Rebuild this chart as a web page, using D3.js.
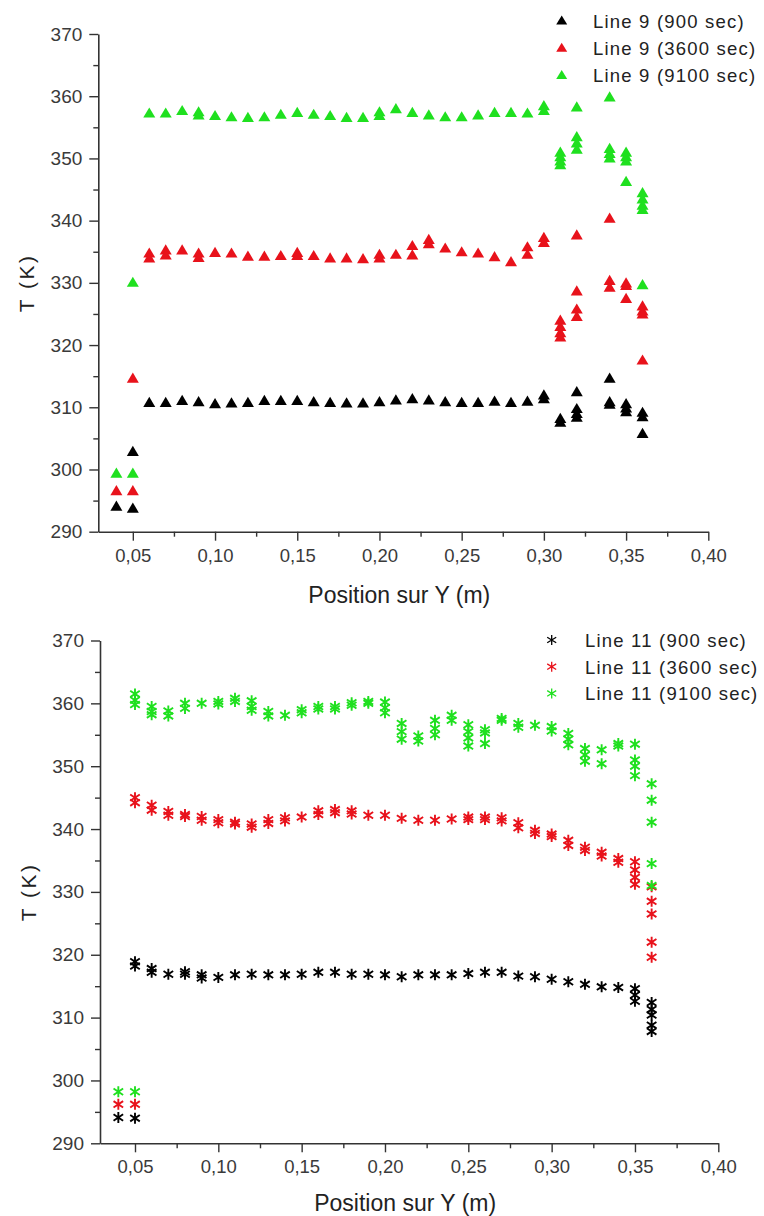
<!DOCTYPE html>
<html><head><meta charset="utf-8">
<script src="https://cdn.jsdelivr.net/npm/d3@7"></script>
<style>
html,body{margin:0;padding:0;background:#fff;}
svg{display:block;font-family:"Liberation Sans",Arial,sans-serif;}
</style></head>
<body>
<svg id="c" width="764" height="1216"></svg>
<script>
// ---------- DATA ----------
const xTicksMajor = [0.05,0.10,0.15,0.20,0.25,0.30,0.35,0.40];
const xTicksMinor = [0.075,0.125,0.175,0.225,0.275,0.325,0.375];
const yTicksMajor = [290,300,310,320,330,340,350,360,370];
const yTicksMinor = [295,305,315,325,335,345,355,365];
const xTitle = "Position sur Y (m)";
const yTitle = "T (K)";

const line9Names = ["Line 9 (900 sec)","Line 9 (3600 sec)","Line 9 (9100 sec)"];
const line11Names = ["Line 11 (900 sec)","Line 11 (3600 sec)","Line 11 (9100 sec)"];
const seriesColors = ["#000000","#e8121b","#1fe01f"];

const line9_900 = [[0.04,294.1],[0.05,293.8],[0.05,302.9],[0.06,310.8],[0.07,310.8],[0.08,311.1],[0.09,310.9],[0.10,310.6],[0.11,310.7],[0.12,310.8],[0.13,311.1],[0.14,311.1],[0.15,311.1],[0.16,310.9],[0.17,310.8],[0.18,310.7],[0.19,310.7],[0.20,310.9],[0.21,311.2],[0.22,311.4],[0.23,311.2],[0.24,310.9],[0.25,310.8],[0.26,310.8],[0.27,311.0],[0.28,310.8],[0.29,311.0],[0.30,312.0],[0.30,311.4],[0.31,308.2],[0.31,307.6],[0.32,312.5],[0.32,309.8],[0.32,309.0],[0.32,308.4],[0.34,314.7],[0.34,310.9],[0.34,310.5],[0.35,310.6],[0.35,309.9],[0.35,309.3],[0.36,309.2],[0.36,308.5],[0.36,305.8]];
const line9_3600 = [[0.04,296.6],[0.05,296.6],[0.05,314.7],[0.06,334.8],[0.06,334.0],[0.07,335.3],[0.07,334.5],[0.08,335.3],[0.09,334.8],[0.09,334.1],[0.10,334.9],[0.11,334.8],[0.12,334.3],[0.13,334.3],[0.14,334.4],[0.15,334.9],[0.15,334.4],[0.16,334.4],[0.17,334.0],[0.18,334.0],[0.19,333.9],[0.20,334.6],[0.20,334.0],[0.21,334.6],[0.22,336.0],[0.22,334.5],[0.23,337.0],[0.23,336.3],[0.24,335.6],[0.25,335.0],[0.26,334.8],[0.27,334.2],[0.28,333.4],[0.29,335.8],[0.29,334.6],[0.30,337.3],[0.30,336.5],[0.31,324.0],[0.31,323.0],[0.31,322.0],[0.31,321.3],[0.32,337.7],[0.32,328.7],[0.32,325.8],[0.32,324.6],[0.34,340.4],[0.34,330.4],[0.34,329.3],[0.35,330.0],[0.35,329.6],[0.35,327.5],[0.36,326.3],[0.36,325.5],[0.36,325.0],[0.36,317.6]];
const line9_9100 = [[0.04,299.4],[0.05,299.4],[0.05,330.1],[0.06,357.3],[0.07,357.3],[0.08,357.7],[0.09,357.5],[0.09,357.0],[0.10,356.9],[0.11,356.7],[0.12,356.6],[0.13,356.7],[0.14,357.1],[0.15,357.4],[0.16,357.1],[0.17,356.9],[0.18,356.6],[0.19,356.6],[0.20,357.5],[0.20,356.9],[0.21,358.0],[0.22,357.4],[0.23,357.0],[0.24,356.7],[0.25,356.7],[0.26,357.0],[0.27,357.4],[0.28,357.4],[0.29,357.3],[0.30,358.5],[0.30,357.7],[0.31,351.0],[0.31,350.3],[0.31,349.6],[0.31,349.0],[0.32,358.3],[0.32,353.5],[0.32,352.5],[0.32,351.5],[0.34,359.9],[0.34,351.6],[0.34,350.8],[0.34,350.1],[0.35,351.0],[0.35,350.3],[0.35,349.6],[0.35,346.3],[0.36,344.5],[0.36,343.5],[0.36,342.5],[0.36,341.8],[0.36,329.7]];

const line11_900 = [[0.04,294.1],[0.05,294.0],[0.05,318.9],[0.05,318.2],[0.06,317.8],[0.06,317.2],[0.07,316.9],[0.08,317.3],[0.08,316.9],[0.09,316.8],[0.09,316.3],[0.10,316.4],[0.11,316.8],[0.12,316.9],[0.13,316.8],[0.14,316.8],[0.15,316.9],[0.16,317.2],[0.17,317.2],[0.18,316.9],[0.19,316.9],[0.20,316.8],[0.21,316.5],[0.22,316.8],[0.23,316.8],[0.24,316.8],[0.25,317.0],[0.26,317.2],[0.27,317.2],[0.28,316.6],[0.29,316.5],[0.30,316.1],[0.31,315.7],[0.32,315.3],[0.33,314.9],[0.34,314.8],[0.35,314.6],[0.35,313.6],[0.35,312.6],[0.36,312.4],[0.36,311.3],[0.36,310.4],[0.36,308.8],[0.36,307.8]];
const line11_3600 = [[0.04,296.2],[0.05,296.2],[0.05,345.0],[0.05,344.2],[0.06,343.8],[0.06,343.0],[0.07,342.8],[0.07,342.2],[0.08,342.3],[0.08,342.0],[0.09,342.0],[0.09,341.4],[0.10,341.5],[0.10,341.0],[0.11,341.1],[0.11,340.8],[0.12,340.8],[0.12,340.3],[0.13,341.5],[0.13,340.9],[0.14,341.8],[0.14,341.3],[0.15,341.9],[0.16,342.9],[0.16,342.3],[0.17,343.1],[0.17,342.6],[0.18,342.9],[0.18,342.4],[0.19,342.2],[0.20,342.2],[0.21,341.7],[0.22,341.4],[0.23,341.4],[0.24,341.6],[0.25,341.9],[0.25,341.5],[0.26,341.9],[0.26,341.5],[0.27,341.8],[0.27,341.3],[0.28,341.0],[0.28,340.2],[0.29,339.8],[0.29,339.3],[0.30,339.2],[0.30,338.8],[0.31,338.2],[0.31,337.4],[0.32,337.1],[0.32,336.6],[0.33,336.3],[0.33,335.7],[0.34,335.3],[0.34,334.7],[0.35,334.8],[0.35,333.5],[0.35,332.3],[0.35,331.2],[0.36,330.8],[0.36,328.5],[0.36,326.5],[0.36,322.0],[0.36,319.6]];
const line11_9100 = [[0.04,298.2],[0.05,298.2],[0.05,361.5],[0.05,360.5],[0.05,359.8],[0.06,359.5],[0.06,358.7],[0.06,358.2],[0.07,358.8],[0.07,358.0],[0.08,360.0],[0.08,359.2],[0.09,360.0],[0.10,360.3],[0.10,359.9],[0.11,360.8],[0.11,360.3],[0.12,360.4],[0.12,359.5],[0.12,358.9],[0.13,358.7],[0.13,358.0],[0.14,358.1],[0.15,359.0],[0.15,358.5],[0.16,359.5],[0.16,359.1],[0.17,359.5],[0.17,359.1],[0.18,360.1],[0.18,359.7],[0.19,360.3],[0.19,360.0],[0.20,360.2],[0.20,359.3],[0.20,358.5],[0.21,356.8],[0.21,355.5],[0.21,354.3],[0.22,354.8],[0.22,354.0],[0.23,357.3],[0.23,356.0],[0.23,355.0],[0.24,358.1],[0.24,357.3],[0.25,356.6],[0.25,355.5],[0.25,354.5],[0.25,353.2],[0.26,355.8],[0.26,355.3],[0.26,353.6],[0.27,357.6],[0.27,357.3],[0.28,356.8],[0.28,356.2],[0.29,356.5],[0.30,356.3],[0.30,355.6],[0.31,355.2],[0.31,354.3],[0.31,353.4],[0.32,352.8],[0.32,351.8],[0.32,350.8],[0.33,352.6],[0.33,350.4],[0.34,353.6],[0.34,353.2],[0.35,353.5],[0.35,351.0],[0.35,350.0],[0.35,348.5],[0.36,347.2],[0.36,344.6],[0.36,341.1],[0.36,334.5],[0.36,331.0]];

// ---------- DRAW ----------
const svg = d3.select("#c");
const fmt = d => d3.format(".2f")(d).replace(".", ",");
const triPath = "M0,-5.6L6,4.6L-6,4.6Z";
const starPath = "M0,-5.5L0,5.5M-4.8,-3.2L4.8,3.2M-4.8,3.2L4.8,-3.2";

function drawChart(cfg){
  const g = svg.append("g");
  const x = d3.scaleLinear().domain([0.029,0.40]).range([cfg.x0, cfg.x1]);
  const y = d3.scaleLinear().domain([290,370]).range([cfg.y0, cfg.y1]);
  const axisCol = "#333";

  const xa = g.append("g").attr("transform",`translate(0,${cfg.y0})`);
  xa.call(d3.axisBottom(x).tickValues(xTicksMajor).tickFormat(fmt).tickSize(9).tickSizeOuter(0).tickPadding(8));
  xa.append("g").call(d3.axisBottom(x).tickValues(xTicksMinor).tickFormat("").tickSize(5).tickSizeOuter(0))
    .select(".domain").remove();
  const ya = g.append("g").attr("transform",`translate(${cfg.x0},0)`);
  ya.call(d3.axisLeft(y).tickValues(yTicksMajor).tickFormat(d3.format("d")).tickSize(9).tickSizeOuter(0).tickPadding(7));
  ya.append("g").call(d3.axisLeft(y).tickValues(yTicksMinor).tickFormat("").tickSize(5).tickSizeOuter(0))
    .select(".domain").remove();

  g.selectAll(".domain").attr("stroke",axisCol).attr("stroke-width",1.6);
  g.selectAll(".tick line").attr("stroke",axisCol).attr("stroke-width",1.4);
  xa.selectAll(".tick text").attr("font-size",18.5).attr("fill","#3a3a3a").attr("font-family","Liberation Sans, Arial, sans-serif");
  ya.selectAll(".tick text").attr("font-size",19).attr("fill","#3a3a3a").attr("font-family","Liberation Sans, Arial, sans-serif");

  g.append("text").attr("x",(cfg.x0+cfg.x1)/2 - 4).attr("y",cfg.xTitleY)
    .attr("text-anchor","middle").attr("font-size",23).attr("fill","#222").text(xTitle);
  g.append("text").attr("transform",`translate(${cfg.yTitleX},${(cfg.y0+cfg.y1)/2}) rotate(-90)`)
    .attr("text-anchor","middle").attr("font-size",21).attr("letter-spacing",2.5).attr("fill","#222").text(yTitle);

  cfg.series.forEach((s,i)=>{
    const sg = g.append("g");
    if(cfg.marker==="tri"){
      sg.selectAll("path").data(s).join("path")
        .attr("d",triPath)
        .attr("transform",d=>`translate(${x(d[0])},${y(d[1])})`)
        .attr("fill",seriesColors[i]);
    } else {
      sg.selectAll("path").data(s).join("path")
        .attr("d",starPath)
        .attr("transform",d=>`translate(${x(d[0])},${y(d[1])})`)
        .attr("fill","none").attr("stroke",seriesColors[i]).attr("stroke-width",1.9);
    }
  });

  const lg = g.append("g");
  cfg.names.forEach((n,i)=>{
    const cy = cfg.legY + i*cfg.legStep;
    if(cfg.marker==="tri"){
      lg.append("path").attr("d","M0,-5L5.5,4L-5.5,4Z").attr("transform",`translate(${cfg.legX},${cy})`).attr("fill",seriesColors[i]);
    } else {
      lg.append("path").attr("d","M0,-5L0,5M-4.5,-2.8L4.5,2.8M-4.5,2.8L4.5,-2.8").attr("transform",`translate(${cfg.legX},${cy})`)
        .attr("fill","none").attr("stroke",seriesColors[i]).attr("stroke-width",1.3);
    }
    lg.append("text").attr("x",cfg.legTextX).attr("y",cy+7).attr("font-size",18.5).attr("letter-spacing",1.2)
      .attr("fill","#222").text(n);
  });
}

drawChart({x0:98.3,x1:708.3,y0:531.7,y1:34,xTitleY:603,yTitleX:34,marker:"tri",
  series:[line9_900,line9_3600,line9_9100],names:line9Names,legX:561.7,legTextX:593,legY:20.5,legStep:27.3});
drawChart({x0:100,x1:718.3,y0:1143.3,y1:640.5,xTitleY:1211,yTitleX:36,marker:"star",
  series:[line11_900,line11_3600,line11_9100],names:line11Names,legX:551.7,legTextX:585,legY:640,legStep:26.7});
</script>
</body></html>
